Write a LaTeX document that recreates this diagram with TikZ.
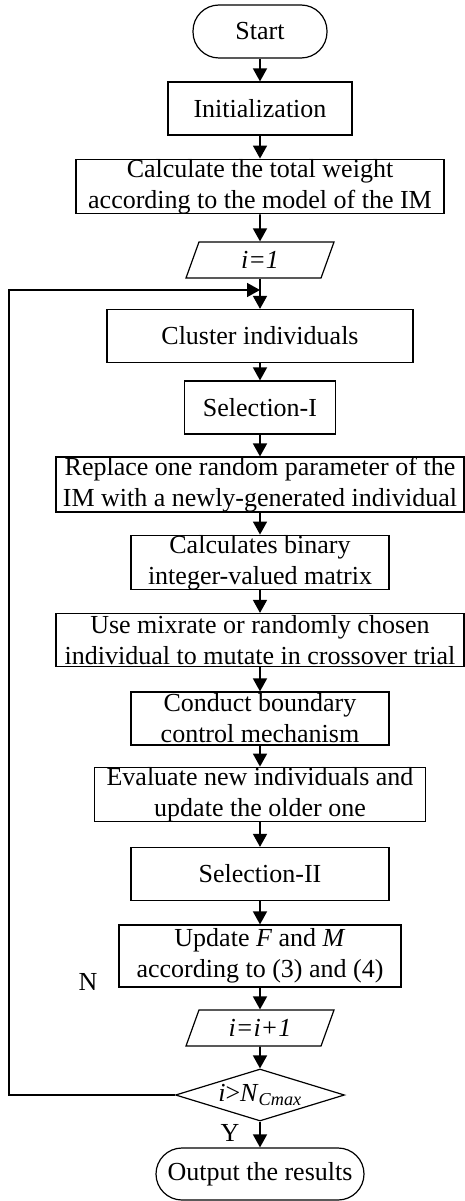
\documentclass[tikz,border=0pt]{standalone}
\usepackage{fontspec}
\setmainfont{Liberation Serif}
\usetikzlibrary{arrows.meta,positioning,shapes.geometric}

\begin{document}
\begin{tikzpicture}[x=1pt,y=1pt,
  every node/.style={font=\fontsize{26}{31}\selectfont},
  box/.style={draw,line width=1.2pt,rectangle,align=center,inner sep=0pt,minimum height=53},
  term/.style={box,rounded corners=26pt},
  io/.style={draw,line width=1.2pt,trapezium,trapezium left angle=53,trapezium right angle=127,
    trapezium stretches body,minimum width=148,minimum height=36,inner sep=0pt},
  test/.style={draw,line width=1.2pt,diamond,aspect=3.2,minimum width=169,minimum height=52,inner sep=0pt},
  arr/.style={-{Triangle[length=13pt,width=14pt]},line width=1.6pt}]
\useasboundingbox (0,0) rectangle (465,-1201);
% main column
\node[term,minimum width=134] (start) at (260,-31.5) {Start};
\node[box,minimum width=184] (init) at (260,-108.5) {Initialization};
\node[box,minimum width=368] (weight) at (260,-186.5) {Calculate the total weight\\according to the model of the IM};
\node[io] (first) at (260,-260) {\textit{i=1}};
\coordinate (join) at (260,-290);
\node[box,minimum width=306] (cluster) at (260,-336) {Cluster individuals};
\node[box,minimum width=151] (selone) at (260,-407.5) {Selection-I};
\node[box,minimum width=408] (replace) at (260,-484.5) {Replace one random parameter of the\\IM with a newly-generated individual};
\node[box,minimum width=258] (binary) at (260,-562.5) {Calculates binary\\integer-valued matrix};
\node[box,minimum width=408] (mutate) at (260,-640) {Use mixrate or randomly chosen\\individual to mutate in crossover trial};
\node[box,minimum width=258] (bound) at (260,-718.5) {Conduct boundary\\control mechanism};
\node[box,minimum width=331] (evaluate) at (260,-794.5) {Evaluate new individuals and\\update the older one};
\node[box,minimum width=258] (seltwo) at (260,-874) {Selection-II};
\node[box,minimum width=282,minimum height=62] (update) at (260,-956) {Update \textit{F} and \textit{M}\\according to (3) and (4)};
\node[io] (next) at (260,-1028) {\textit{i=i+1}};
\node[test] (check) at (260,-1095) {\textit{i}>\textit{N}\textsubscript{\textit{Cmax}}};
\node[term,minimum width=208,minimum height=52] (output) at (260,-1174) {Output the results};
% labels
\node (no) at (88,-982) {N};
\node (yes) at (230,-1133) {Y};
% connectors
\draw[arr] (start) -- (init);
\draw[arr] (init) -- (weight);
\draw[arr] (weight) -- (first);
\draw[line width=1.6pt] (first) -- (join);
\draw[arr] (join) -- (cluster);
\draw[arr] (cluster) -- (selone);
\draw[arr] (selone) -- (replace);
\draw[arr] (replace) -- (binary);
\draw[arr] (binary) -- (mutate);
\draw[arr] (mutate) -- (bound);
\draw[arr] (bound) -- (evaluate);
\draw[arr] (evaluate) -- (seltwo);
\draw[arr] (seltwo) -- (update);
\draw[arr] (update) -- (next);
\draw[arr] (next) -- (check);
\draw[arr] (check) -- (output);
\coordinate (back) at (9,-1095);
\draw[arr] (check.west) -- (back) |- (join);
\end{tikzpicture}
\end{document}
